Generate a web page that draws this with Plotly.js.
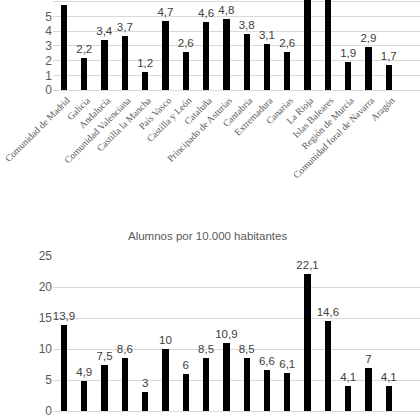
<!DOCTYPE html>
<html>
<head>
<meta charset="utf-8">
<script src="https://cdn.plot.ly/plotly-3.0.1.min.js"></script>
<style>
  html, body { margin: 0; padding: 0; background: #fff; }
  #chart { width: 420px; height: 420px; }
</style>
</head>
<body>
<div id="chart"></div>
<script>
// comunidades autónomas
const regiones = [
  "Comunidad de Madrid", "Galicia", "Andalucía", "Comunidad Valenciana",
  "Castilla la Mancha", "País Vasco", "Castilla y León", "Cataluña",
  "Principado de Asturias", "Cantabria", "Extremadura", "Canarias",
  "La Rioja", "Islas Baleares", "Región de Murcia",
  "Comunidad foral de Navarra", "Aragón"
];

// upper chart (title cut off in the picture); La Rioja / Baleares go off the top
const valoresArriba = [5.8, 2.2, 3.4, 3.7, 1.2, 4.7, 2.6, 4.6, 4.8, 3.8, 3.1, 2.6, 7.4, 6.9, 1.9, 2.9, 1.7];

// Alumnos por 10.000 habitantes
const alumnos10000 = [13.9, 4.9, 7.5, 8.6, 3, 10, 6, 8.5, 10.9, 8.5, 6.6, 6.1, 22.1, 14.6, 4.1, 7, 4.1];

const tituloAbajo = "Alumnos por 10.000 habitantes";

const coma = v => String(v).replace(".", ",");

const gris = "#595959";
const rejilla = "#d9d9d9";

const topeArriba = 6.12;

function barras(vals, xa, ya, tope) {
  return {
    type: "bar",
    x: regiones,
    y: vals,
    xaxis: xa,
    yaxis: ya,
    width: 0.31,
    marker: { color: "#000" },
    // labels that would sit above the visible area are left out
    text: vals.map(v => (v > tope - 0.6 ? "" : coma(v))),
    textposition: "outside",
    constraintext: "none",
    cliponaxis: true,
    textfont: { family: "Liberation Sans, Arial, sans-serif", size: 11.5, color: "#404040" },
    hoverinfo: "x+y",
    showlegend: false
  };
}

const data = [
  barras(valoresArriba, "x", "y", topeArriba),
  barras(alumnos10000, "x2", "y2", 100)
];

const ejeX = {
  type: "category",
  range: [-0.54, 17.54],
  showgrid: false,
  zeroline: false,
  showline: true,
  linecolor: rejilla,
  linewidth: 1,
  ticks: "",
  automargin: false
};

const ejeY = {
  showgrid: true,
  gridcolor: rejilla,
  gridwidth: 1,
  zeroline: false,
  showline: false,
  ticks: "",
  automargin: false,
  tickfont: { family: "Liberation Sans, Arial, sans-serif", size: 12, color: gris }
};

const layout = {
  width: 420,
  height: 420,
  margin: { l: 53, r: 0, t: 0, b: 9 },
  paper_bgcolor: "#fff",
  plot_bgcolor: "#fff",
  bargap: 0,
  xaxis: Object.assign({}, ejeX, {
    anchor: "y",
    tickangle: -45,
    ticklabelshift: 3,
    tickfont: { family: "Liberation Serif, Times New Roman, serif", size: 9.6, color: gris }
  }),
  yaxis: Object.assign({}, ejeY, {
    domain: [0.781, 1],
    range: [0, topeArriba],
    dtick: 1
  }),
  xaxis2: Object.assign({}, ejeX, {
    anchor: "y2",
    showticklabels: false
  }),
  yaxis2: Object.assign({}, ejeY, {
    domain: [0, 0.377],
    range: [0, 25],
    dtick: 5
  }),
  annotations: [{
    text: tituloAbajo,
    xref: "paper",
    yref: "paper",
    x: 0.42,
    y: 0.426,
    xanchor: "center",
    yanchor: "middle",
    showarrow: false,
    font: { family: "Liberation Sans, Arial, sans-serif", size: 11.5, color: gris }
  }]
};

Plotly.newPlot("chart", data, layout, { displayModeBar: false, staticPlot: true });
</script>
</body>
</html>
